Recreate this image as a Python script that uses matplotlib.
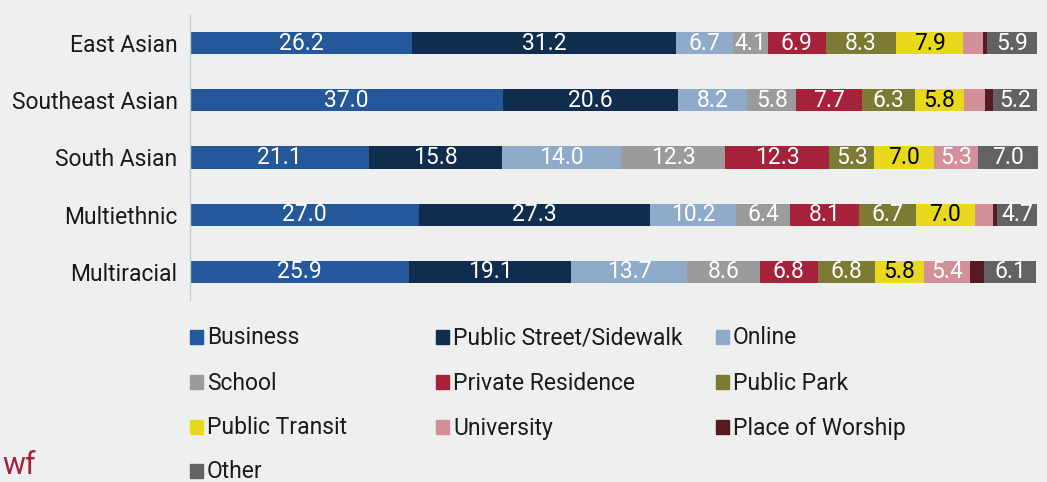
import matplotlib.pyplot as plt
from matplotlib.patches import Rectangle

# categories (top to bottom)
groups = ["East Asian", "Southeast Asian", "South Asian", "Multiethnic", "Multiracial"]

locations = ["Business", "Public Street/Sidewalk", "Online", "School",
             "Private Residence", "Public Park", "Public Transit",
             "University", "Place of Worship", "Other"]

# percent share per location, one list per location, in group order
business = [26.2, 37.0, 21.1, 27.0, 25.9]
street = [31.2, 20.6, 15.8, 27.3, 19.1]
online = [6.7, 8.2, 14.0, 10.2, 13.7]
school = [4.1, 5.8, 12.3, 6.4, 8.6]
residence = [6.9, 7.7, 12.3, 8.1, 6.8]
park = [8.3, 6.3, 5.3, 6.7, 6.8]
transit = [7.9, 5.8, 7.0, 7.0, 5.8]
university = [2.3, 2.5, 5.3, 2.1, 5.4]
worship = [0.5, 0.9, 0.0, 0.5, 1.7]
other = [5.9, 5.2, 7.0, 4.7, 6.1]

series = [business, street, online, school, residence, park, transit,
          university, worship, other]

colors = ["#24589a", "#112d4e", "#90aac9", "#9b9b9b", "#a6213a",
          "#7c7a33", "#e8d91c", "#d4909a", "#561a21", "#626262"]

bg = "#eef0ef"
font = ["Roboto", "DejaVu Sans"]
plt.rcParams['font.family'] = font
fs = 16.5

fig = plt.figure(figsize=(10.47, 4.82), dpi=100, facecolor=bg)
ax = fig.add_axes([190 / 1047, 182 / 482, 857 / 1047, 285 / 482])
ax.set_facecolor(bg)

ypos = list(range(len(groups)))
left = [0.0] * len(groups)
for vals, col in zip(series, colors):
    ax.barh(ypos, vals, left=left, height=0.385, color=col, linewidth=0)
    txtcol = "black" if col == "#e8d91c" else "white"
    for y, l, v in zip(ypos, left, vals):
        if v >= 4:
            ax.text(l + v / 2, y, f"{v:.1f}", ha="center", va="center",
                    color=txtcol, fontsize=fs)
    left = [a + b for a, b in zip(left, vals)]

ax.set_xlim(0, 101.2)
ax.set_ylim(4.49, -0.49)
ax.set_yticks(ypos)
ax.set_yticklabels(groups, fontsize=fs, color="#1a1a1a")
ax.tick_params(axis="y", length=0, pad=9)
ax.set_xticks([])
for s in ["top", "right", "bottom"]:
    ax.spines[s].set_visible(False)
ax.spines["left"].set_color("#cccccc")
ax.spines["left"].set_linewidth(1)

# legend drawn by hand, row-major, three columns
col_x = [190, 436, 716]
row_y = [338, 383, 428, 472]
W, H = 1047, 482
for i, (name, col) in enumerate(zip(locations, colors)):
    r, c = divmod(i, 3)
    x, y = col_x[c], row_y[r]
    fig.patches.append(Rectangle((x / W, (H - y - 6) / H), 13 / W, 14 / H,
                                 transform=fig.transFigure, color=col))
    fig.text((x + 17) / W, (H - y) / H, name, ha="left", va="center",
             fontsize=fs, color="#1a1a1a")

# partial logo text at the lower left
fig.text(2 / W, (H - 466) / H, "wf", color="#a6213a", fontsize=22,
         ha="left", va="center")

fig.savefig("out.png", dpi=100, facecolor=bg)
